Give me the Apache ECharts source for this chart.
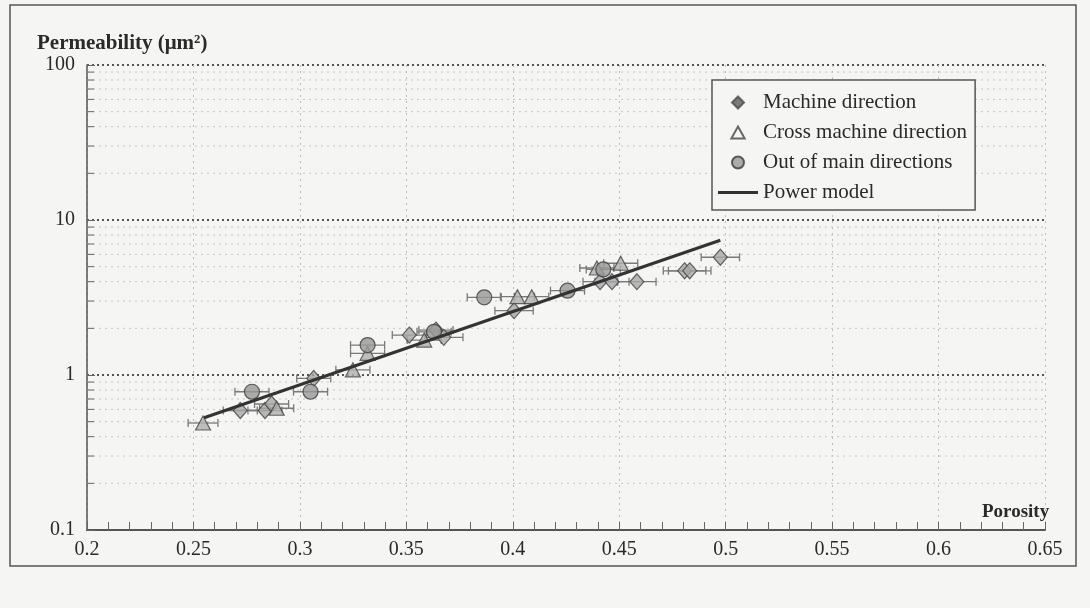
<!DOCTYPE html>
<html>
<head>
<meta charset="utf-8">
<script src="https://cdn.jsdelivr.net/npm/echarts@6/dist/echarts.min.js"></script>
<style>html,body{margin:0;padding:0;background:#f5f5f3;}#c{width:1090px;height:608px;}</style>
</head>
<body>
<div id="c"></div>
<script>
// ---- data ----
const xTicks = [0.2, 0.25, 0.3, 0.35, 0.4, 0.45, 0.5, 0.55, 0.6, 0.65];
const yTicks = [0.1, 1, 10, 100];
const yMinorTicks = [0.2, 0.3, 0.4, 0.5, 0.6, 0.7, 0.8, 0.9, 2, 3, 4, 5, 6, 7, 8, 9, 20, 30, 40, 50, 60, 70, 80, 90];

// Machine direction (diamonds)
const mdX   = [0.272, 0.2836, 0.2867, 0.3065, 0.3514, 0.3639, 0.3676, 0.4006, 0.441, 0.4466, 0.4583, 0.4807, 0.4831, 0.4975];
const mdY   = [0.59, 0.59, 0.65, 0.95, 1.81, 1.95, 1.75, 2.6, 4.0, 4.0, 4.0, 4.7, 4.7, 5.75];
const mdErr = [0.008, 0.008, 0.008, 0.008, 0.008, 0.008, 0.009, 0.009, 0.008, 0.008, 0.009, 0.010, 0.010, 0.009];

// Cross machine direction (triangles)
const cmdX   = [0.2545, 0.2891, 0.3249, 0.3318, 0.3584, 0.4022, 0.4089, 0.4395, 0.4507];
const cmdY   = [0.49, 0.61, 1.08, 1.38, 1.68, 3.2, 3.2, 4.9, 5.26];
const cmdErr = [0.007, 0.008, 0.008, 0.008, 0.008, 0.008, 0.008, 0.008, 0.008];

// Out of main directions (circles)
const omdX   = [0.2775, 0.305, 0.3318, 0.363, 0.3866, 0.4257, 0.4425];
const omdY   = [0.78, 0.78, 1.56, 1.9, 3.17, 3.5, 4.8];
const omdErr = [0.008, 0.008, 0.008, 0.008, 0.008, 0.008, 0.008];

// Power model line
const modelX = [0.255, 0.4975];
const modelY = [0.53, 7.4];

// ---- build ----
const FONT = '"Liberation Serif", "DejaVu Serif", serif';
const BG = '#f5f5f3';
const zip = (xs, ys) => xs.map((x, i) => [x, ys[i]]);
const errData = [].concat(
  mdX.map((x, i) => [x, mdY[i], mdErr[i]]),
  cmdX.map((x, i) => [x, cmdY[i], cmdErr[i]]),
  omdX.map((x, i) => [x, omdY[i], omdErr[i]])
);
const xMin = xTicks[0], xMax = xTicks[xTicks.length - 1];

const chart = echarts.init(document.getElementById('c'), null, {renderer: 'canvas'});
chart.setOption({
  backgroundColor: BG,
  animation: false,
  title: [
    {text: 'Permeability (μm²)', left: 32, top: 28,
     textStyle: {fontFamily: FONT, fontWeight: 'bold', fontSize: 21, color: '#2a2a2a'}},
    {text: 'Porosity', left: 977, top: 498,
     textStyle: {fontFamily: FONT, fontWeight: 'bold', fontSize: 19, color: '#2a2a2a'}}
  ],
  graphic: [
    {type: 'rect', z: -1, silent: true, shape: {x: 10, y: 5, width: 1066, height: 561},
     style: {fill: 'none', stroke: '#555', lineWidth: 1.5}}
  ],
  legend: {
    data: [
      {name: 'Machine direction', icon: 'path://M5,0 L10,5 L5,10 L0,5 Z',
       itemStyle: {color: '#5e5e5e', borderColor: '#4a4a4a'}},
      {name: 'Cross machine direction', icon: 'path://M5,0 L10,9 L0,9 Z',
       itemStyle: {color: BG, borderColor: '#444'}},
      {name: 'Out of main directions', icon: 'circle'},
      {name: 'Power model', icon: 'path://M0,0 L40,0 L40,3 L0,3 Z',
       itemStyle: {color: '#333', borderWidth: 0}}
    ],
    orient: 'vertical', left: 712, top: 80,
    padding: [12, 8, 7, 6],
    itemWidth: 40, itemHeight: 12, itemGap: 9,
    backgroundColor: BG,
    borderColor: '#555', borderWidth: 1.5,
    textStyle: {fontFamily: FONT, fontSize: 21, color: '#2a2a2a', lineHeight: 21}
  },
  grid: {left: 87, right: 45, top: 65, bottom: 78},
  xAxis: {
    type: 'value', min: xMin, max: xMax, interval: 0.05,
    axisLine: {lineStyle: {color: '#555', width: 2}},
    axisTick: {inside: true, length: 8, lineStyle: {color: '#666'}},
    minorTick: {show: true, splitNumber: 5, length: 8, lineStyle: {color: '#666'}},
    axisLabel: {fontFamily: FONT, fontSize: 20, color: '#2a2a2a', margin: 10,
      formatter: v => String(Math.round(v * 100) / 100)},
    splitLine: {show: true, lineStyle: {color: '#bdbdbd', type: [2, 4], width: 1}}
  },
  yAxis: {
    type: 'log', min: yTicks[0], max: yTicks[yTicks.length - 1], logBase: 10,
    axisLine: {show: true, lineStyle: {color: '#555', width: 1.5}},
    axisTick: {inside: true, length: 8, lineStyle: {color: '#666'}},
    axisLabel: {fontFamily: FONT, fontSize: 20, color: '#2a2a2a', margin: 12,
      formatter: v => String(v)},
    splitLine: {show: true, lineStyle: {color: '#555', type: [2, 3], width: 2}}
  },
  series: [
    {
      type: 'custom', name: 'minor', silent: true, z: 1,
      data: yMinorTicks.map(v => [xMin, v]),
      renderItem: (params, api) => {
        const v = api.value(1);
        const p1 = api.coord([xMin, v]);
        const p2 = api.coord([xMax, v]);
        return {type: 'group', children: [
          {type: 'line', shape: {x1: p1[0], y1: p1[1], x2: p2[0], y2: p2[1]},
           style: {stroke: '#c4c4c4', lineWidth: 1, lineDash: [2, 4]}},
          {type: 'line', shape: {x1: p1[0], y1: p1[1], x2: p1[0] + 7, y2: p1[1]},
           style: {stroke: '#666', lineWidth: 1}}
        ]};
      }
    },
    {
      type: 'custom', name: 'errors', silent: true, z: 2,
      data: errData,
      renderItem: (params, api) => {
        const x = api.value(0), y = api.value(1), e = api.value(2);
        const a = api.coord([x - e, y]);
        const b = api.coord([x + e, y]);
        const st = {stroke: '#7a7a7a', lineWidth: 1.3};
        return {type: 'group', children: [
          {type: 'line', shape: {x1: a[0], y1: a[1], x2: b[0], y2: b[1]}, style: st},
          {type: 'line', shape: {x1: a[0], y1: a[1] - 4, x2: a[0], y2: a[1] + 4}, style: st},
          {type: 'line', shape: {x1: b[0], y1: b[1] - 4, x2: b[0], y2: b[1] + 4}, style: st}
        ]};
      }
    },
    {
      type: 'scatter', name: 'Machine direction', z: 4,
      symbol: 'diamond', symbolSize: [14, 16],
      itemStyle: {color: '#a8a8a8', borderColor: '#444', borderWidth: 1.2},
      data: zip(mdX, mdY)
    },
    {
      type: 'scatter', name: 'Cross machine direction', z: 4,
      symbol: 'triangle', symbolSize: [15, 14],
      itemStyle: {color: '#b0b0b0', borderColor: '#444', borderWidth: 1.2},
      data: zip(cmdX, cmdY)
    },
    {
      type: 'scatter', name: 'Out of main directions', z: 4,
      symbol: 'circle', symbolSize: 15,
      itemStyle: {color: '#999', borderColor: '#3a3a3a', borderWidth: 1.2},
      data: zip(omdX, omdY)
    },
    {
      type: 'line', name: 'Power model', z: 5,
      symbol: 'none', showSymbol: false,
      lineStyle: {color: '#333', width: 3},
      itemStyle: {color: '#333'},
      data: zip(modelX, modelY)
    }
  ]
});
</script>
</body>
</html>
